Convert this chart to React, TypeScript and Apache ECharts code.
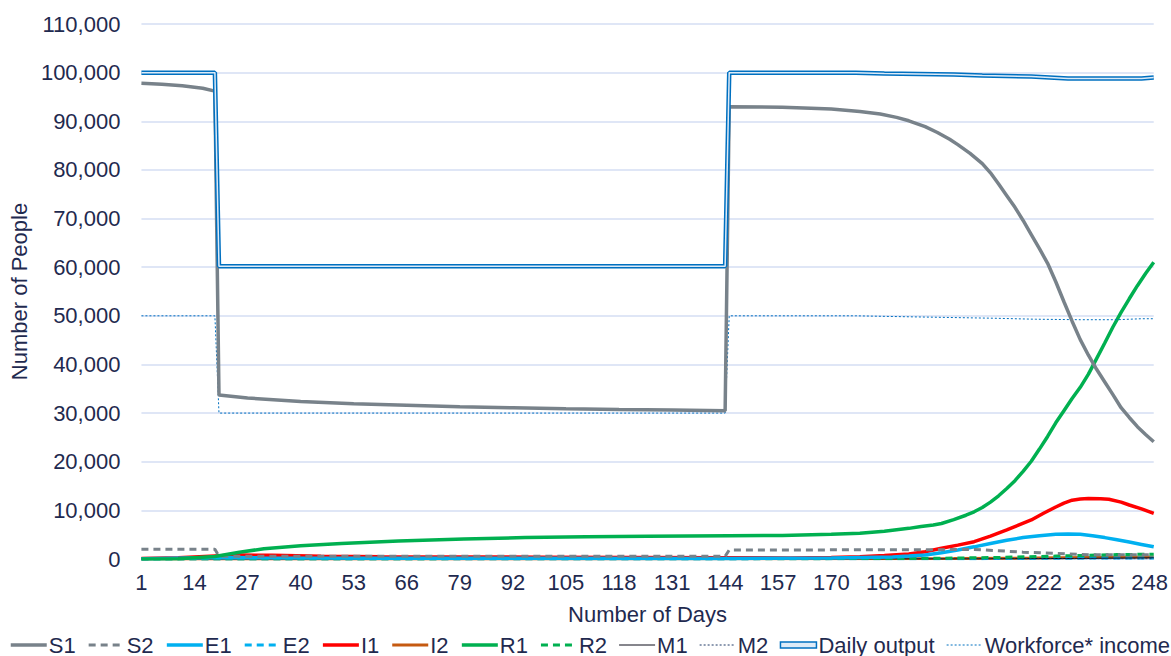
import React, { useEffect, useRef } from "react";
import * as echarts from "echarts";

const FONT = "'Liberation Sans', Arial, sans-serif";
const TEXT = "#1F2A4F";
const GRID = "#D5DEF3";

// x categories: days 1..249
const dayCount = 249;
const dayLabels: string[] = [];
for (let d = 1; d <= dayCount; d++) dayLabels.push(String(d));

// S1
const s1Days = [1, 6, 11, 16, 19, 20, 27, 40, 53, 66, 79, 92, 105, 118, 131, 144, 145, 158, 165, 170, 177, 182, 186, 189, 193, 196, 199, 201, 204, 207, 209, 211, 213, 215, 217, 219, 221, 223, 225, 227, 229, 231, 233, 235, 237, 239, 241, 243, 245, 247, 249];
const s1Vals = [97800, 97600, 97300, 96800, 96200, 33700, 33100, 32400, 31900, 31600, 31300, 31100, 30900, 30750, 30650, 30500, 93000, 92900, 92700, 92500, 92000, 91500, 90800, 90100, 88900, 87700, 86300, 85200, 83400, 81300, 79400, 77100, 74700, 72300, 69600, 66700, 63800, 60800, 57000, 52900, 48900, 45100, 41900, 39000, 36400, 33800, 31100, 29100, 27200, 25600, 24100];
// S2
const s2Days = [1, 19, 20, 144, 145, 190, 205, 211, 217, 225, 233, 249];
const s2Vals = [2000, 2000, 550, 550, 1850, 1900, 1950, 1700, 1400, 1150, 850, 850];
// E1
const e1Days = [1, 20, 30, 60, 145, 170, 185, 189, 193, 197, 201, 205, 209, 213, 217, 221, 225, 228, 231, 234, 237, 240, 243, 246, 249];
const e1Vals = [50, 300, 250, 150, 100, 200, 400, 600, 820, 1300, 1850, 2500, 3200, 3850, 4400, 4800, 5100, 5150, 5100, 4800, 4400, 3950, 3500, 3000, 2500];
// E2
const e2Days = [1, 145, 210, 235, 249];
const e2Vals = [0, 20, 80, 200, 200];
// I1
const i1Days = [1, 10, 19, 25, 33, 45, 60, 100, 144, 160, 170, 177, 183, 189, 193, 197, 201, 205, 209, 213, 216, 219, 222, 225, 227, 229, 231, 233, 236, 238, 241, 243, 246, 249];
const i1Vals = [100, 250, 600, 800, 750, 550, 450, 380, 250, 220, 320, 470, 700, 1030, 1500, 2200, 2850, 3560, 4700, 5970, 7000, 8020, 9400, 10700, 11500, 12100, 12350, 12450, 12400, 12300, 11700, 11100, 10300, 9400];
// I2
const i2Days = [1, 145, 200, 220, 240, 249];
const i2Vals = [0, 30, 80, 200, 350, 400];
// R1
const r1Days = [1, 10, 19, 25, 31, 40, 50, 64, 80, 95, 110, 125, 145, 158, 170, 177, 183, 186, 189, 192, 195, 197, 200, 203, 205, 207, 209, 211, 213, 215, 217, 219, 221, 223, 225, 227, 229, 231, 233, 235, 237, 239, 241, 243, 245, 247, 249];
const r1Vals = [0, 50, 500, 1400, 2100, 2700, 3200, 3700, 4100, 4400, 4600, 4700, 4800, 4850, 5100, 5300, 5700, 6000, 6300, 6700, 7000, 7300, 8100, 9000, 9700, 10600, 11700, 13000, 14500, 16100, 18000, 20100, 22600, 25200, 28000, 30500, 33000, 35300, 38000, 41200, 44400, 47700, 50700, 53500, 56200, 58700, 61000];
// R2
const r2Days = [1, 145, 190, 210, 225, 240, 249];
const r2Vals = [0, 50, 100, 300, 600, 900, 1000];
// M1
const m1Days = [1, 200, 230, 249];
const m1Vals = [0, 20, 120, 250];
// M2
const m2Days = [1, 249];
const m2Vals = [0, 50];
// Daily output
const doDays = [1, 19, 20, 144, 145, 176, 183, 200, 207, 219, 228, 246, 249];
const doVals = [100000, 100000, 60200, 60200, 100000, 100000, 99800, 99600, 99400, 99200, 98800, 98800, 99000];
// Workforce* income
const wfDays = [1, 19, 20, 144, 145, 176, 189, 210, 220, 231, 240, 246, 249];
const wfVals = [50000, 50000, 30000, 30000, 50000, 50000, 49800, 49500, 49300, 49200, 49200, 49400, 49400];

const pairs = (d: number[], v: number[]) => d.map((x, i) => [x - 1, v[i]]);

function line(name: string, d: number[], v: number[], color: string, width: number, type: any, z = 2) {
  return {
    name,
    type: "line",
    data: pairs(d, v),
    symbol: "none",
    showSymbol: false,
    z,
    lineStyle: { color, width, type, cap: "butt" },
    itemStyle: { color },
    emphasis: { disabled: true },
  };
}

export default function App() {
  const ref = useRef<HTMLDivElement>(null);
  useEffect(() => {
    if (!ref.current) return;
    const chart = echarts.init(ref.current, undefined, { renderer: "svg" });
    const option: any = {
      animation: false,
      textStyle: { fontFamily: FONT },
      grid: { left: 139, right: 13, top: 24, bottom: 97, containLabel: false },
      xAxis: {
        type: "category",
        data: dayLabels,
        boundaryGap: false,
        name: "Number of Days",
        nameLocation: "middle",
        nameGap: 44,
        nameTextStyle: { color: TEXT, fontSize: 22, fontFamily: FONT },
        axisLine: { show: true, lineStyle: { color: GRID, width: 1 } },
        axisTick: { show: false },
        axisLabel: { interval: 12, color: TEXT, fontSize: 22, margin: 12, fontFamily: FONT },
        splitLine: { show: false },
      },
      yAxis: {
        type: "value",
        min: 0,
        max: 110000,
        interval: 10000,
        name: "Number of People",
        nameLocation: "middle",
        nameGap: 108,
        nameTextStyle: { color: TEXT, fontSize: 22, fontFamily: FONT },
        axisLine: { show: false },
        axisTick: { show: false },
        axisLabel: {
          color: TEXT,
          fontSize: 22,
          margin: 21,
          fontFamily: FONT,
          formatter: (v: number) => v.toLocaleString("en-US"),
        },
        splitLine: { lineStyle: { color: GRID, width: 1.5 } },
      },
      legend: {
        data: [
          "S1", "S2", "E1", "E2", "I1", "I2", "R1", "R2", "M1", "M2",
          {
            name: "Daily output",
            icon: "path://M0,0 L36,0 L36,6 L0,6 Z",
            itemStyle: { color: "#DDEBF8", borderColor: "#0070C0", borderWidth: 1.5, opacity: 1 },
          },
          "Workforce* income",
        ],
        left: 9,
        top: 630,
        padding: [4, 0, 0, 0],
        itemWidth: 36,
        itemHeight: 14,
        itemGap: 11.5,
        itemStyle: { opacity: 0 },
        lineStyle: { width: "inherit" },
        textStyle: { color: TEXT, fontSize: 22, fontFamily: FONT, padding: [0, 0, 0, -3] },
        selectedMode: false,
      },
      series: [
        line("I2", i2Days, i2Vals, "#C55A11", 3, "solid", 2),
        line("E2", e2Days, e2Vals, "#00B0F0", 3, [7, 5], 2),
        line("M1", m1Days, m1Vals, "#0D0D1A", 1, "solid", 2),
        line("M2", m2Days, m2Vals, "#1F3864", 1, [2, 2], 2),
        line("I1", i1Days, i1Vals, "#FF0000", 3.5, "solid", 3),
        line("R2", r2Days, r2Vals, "#00B050", 3, [7, 5], 3),
        line("E1", e1Days, e1Vals, "#00B0F0", 3.5, "solid", 3),
        line("S2", s2Days, s2Vals, "#78828A", 3, [7, 5], 3),
        line("R1", r1Days, r1Vals, "#00B050", 3.5, "solid", 4),
        line("Workforce* income", wfDays, wfVals, "#0070C0", 1, [2, 2], 4),
        line("S1", s1Days, s1Vals, "#78828A", 3.5, "solid", 5),
        line("Daily output", doDays, doVals, "#0070C0", 4.5, "solid", 6),
        {
          name: "Daily output inner",
          type: "line",
          data: pairs(doDays, doVals),
          symbol: "none",
          showSymbol: false,
          z: 7,
          lineStyle: { color: "#DDEBF8", width: 1.5 },
          emphasis: { disabled: true },
          silent: true,
        },
      ],
    };
    chart.setOption(option);
    return () => chart.dispose();
  }, []);
  return <div ref={ref} style={{ width: 1171, height: 656, position: "absolute", left: 0, top: 0 }} />;
}
